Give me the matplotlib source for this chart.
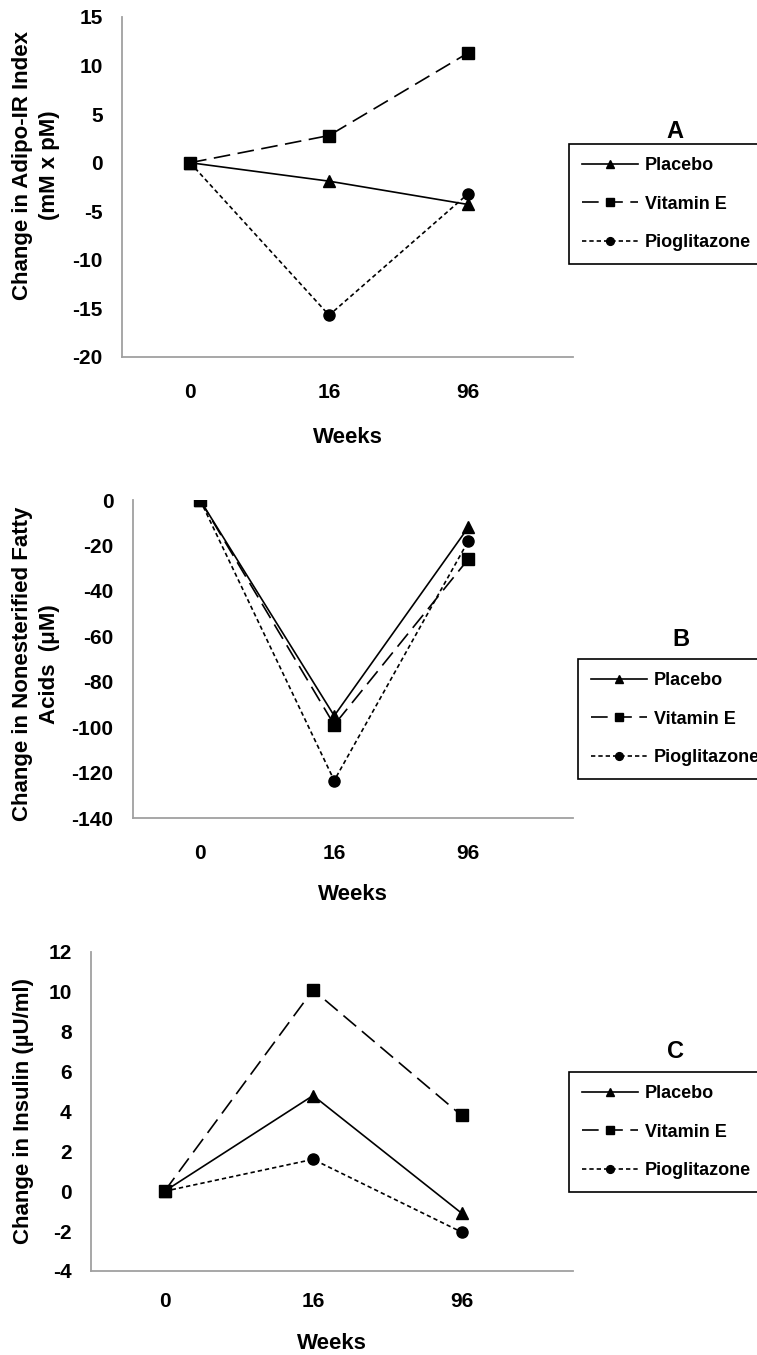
import matplotlib
matplotlib.use("Agg")
import matplotlib.pyplot as plt

plt.rcParams['font.family'] = ['Liberation Sans', 'DejaVu Sans']
plt.rcParams['font.weight'] = 'bold'
plt.rcParams['axes.unicode_minus'] = False

# Données
weeks = ['0', '16', '96']
groups = ['Placebo', 'Vitamin E', 'Pioglitazone']

adipo_placebo = [0, -1.9, -4.3]
adipo_vite = [0, 2.8, 11.3]
adipo_pio = [0, -15.7, -3.2]

nefa_placebo = [0, -95, -12]
nefa_vite = [0, -99, -26]
nefa_pio = [0, -123.5, -18]

ins_placebo = [0, 4.8, -1.1]
ins_vite = [0, 10.1, 3.8]
ins_pio = [0, 1.6, -2.05]

W, H = 757, 1355
fig = plt.figure(figsize=(W / 100, H / 100), dpi=100)


def px_axes(left, right, top, bottom):
    return fig.add_axes([left / W, 1 - bottom / H, (right - left) / W, (bottom - top) / H])


styles = {
    'Placebo': dict(linestyle='-', marker='^', markersize=8),
    'Vitamin E': dict(linestyle=(0, (10, 4.5)), marker='s', markersize=8),
    'Pioglitazone': dict(linestyle=(0, (2.6, 1.8)), marker='o', markersize=8),
}

panels = [
    # (valeurs, ylim, pas, xlim, cadre px, label y, lettre, legende, lettre xy, label xy, pads)
    ([adipo_placebo, adipo_vite, adipo_pio], (-20, 15), 5, (-0.49, 2.755),
     (122, 573, 17, 357), "Change in Adipo-IR Index\n(mM x pM)", 'A',
     (569, 144), (675, 131), (36, 165), (19, 18)),
    ([nefa_placebo, nefa_vite, nefa_pio], (-140, 0), 20, (-0.5, 2.78),
     (133, 573, 500, 818), "Change in Nonesterified Fatty\nAcids  (\u03bcM)", 'B',
     (578, 659), (681, 639), (36, 664), (19, 15)),
    ([ins_placebo, ins_vite, ins_pio], (-4, 12), 2, (-0.495, 2.75),
     (91, 573, 952, 1271), "Change in Insulin (\u00b5U/ml)", 'C',
     (569, 1072), (675, 1052), (24, 1111), (15, 16)),
]

for vals, ylim, step, xlim, box, ylab, letter, leg_xy, let_xy, lab_xy, pads in panels:
    ax = px_axes(*box)
    x = range(len(weeks))
    for g, v in zip(groups, vals):
        ax.plot(x, v, color='black', linewidth=1.2, label=g, **styles[g])
    ax.set_xlim(xlim)
    ax.set_ylim(ylim)
    ax.set_yticks(range(ylim[0], ylim[1] + 1, step))
    ax.set_xticks(list(x))
    ax.set_xticklabels(weeks)
    ax.tick_params(length=0, labelsize=15)
    ax.tick_params(axis='y', pad=14)
    ax.tick_params(axis='x', pad=pads[0])
    for s in ['top', 'right']:
        ax.spines[s].set_visible(False)
    for s in ['left', 'bottom']:
        ax.spines[s].set_color('#a0a0a0')
        ax.spines[s].set_linewidth(1.3)
    ax.set_xlabel('Weeks', fontsize=16, fontweight='bold', labelpad=pads[1])
    fig.text(lab_xy[0] / W, 1 - lab_xy[1] / H, ylab, rotation=90, ha='center', va='center',
             fontsize=16, fontweight='bold', multialignment='center', linespacing=1.4)

    leg = ax.legend(loc='upper left', bbox_to_anchor=(leg_xy[0] / W, 1 - leg_xy[1] / H),
                    bbox_transform=fig.transFigure, borderaxespad=0, fancybox=False,
                    edgecolor='black', framealpha=1, prop=dict(size=13, weight='bold'),
                    handlelength=3.1, handletextpad=0.4, labelspacing=1.2, markerscale=0.7,
                    borderpad=0.72)
    leg.get_frame().set_linewidth(1.2)
    fig.text(let_xy[0] / W, 1 - let_xy[1] / H, letter, ha='center', va='center',
             fontsize=17, fontweight='bold')

fig.savefig('out.png', dpi=100)
